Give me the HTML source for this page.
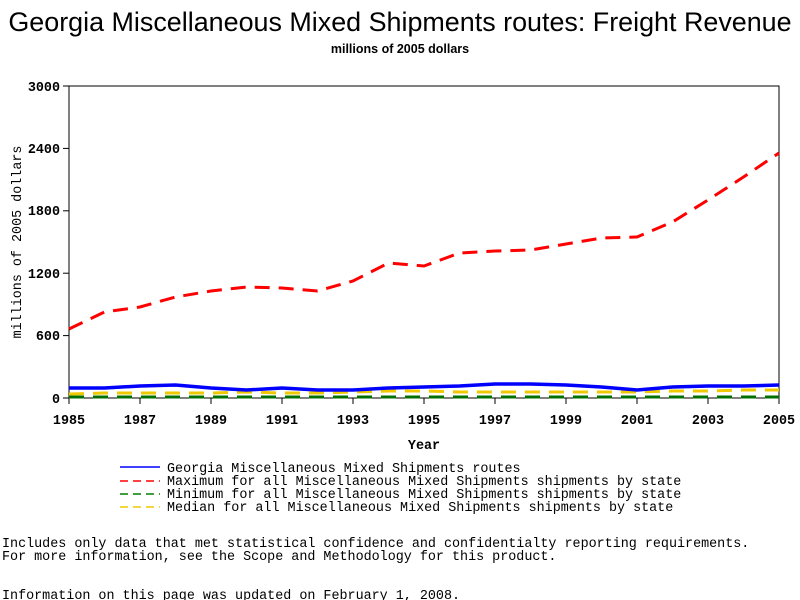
<!DOCTYPE html>
<html><head><meta charset="utf-8"><style>
body{margin:0;background:#fff;}
svg{display:block;}
.m{font-family:"Liberation Mono",monospace;font-size:13.4px;fill:#000;}
.b{font-weight:bold;}
</style></head><body>
<svg width="800" height="600" viewBox="0 0 800 600" xmlns="http://www.w3.org/2000/svg">
<text x="400" y="31" text-anchor="middle" font-family="Liberation Sans,sans-serif" font-size="26.9" fill="#000">Georgia Miscellaneous Mixed Shipments routes: Freight Revenue</text>
<text x="400" y="53" text-anchor="middle" font-family="Liberation Sans,sans-serif" font-size="12.5" font-weight="bold" fill="#000">millions of 2005 dollars</text>
<rect x="69" y="86" width="710" height="312" fill="none" stroke="#000" stroke-width="1"/>
<g stroke="#000">
<line x1="63" y1="86" x2="69" y2="86"/><line x1="63" y1="148.4" x2="69" y2="148.4"/><line x1="63" y1="210.8" x2="69" y2="210.8"/><line x1="63" y1="273.2" x2="69" y2="273.2"/><line x1="63" y1="335.6" x2="69" y2="335.6"/><line x1="63" y1="398" x2="69" y2="398"/>
<line x1="69" y1="398" x2="69" y2="404"/><line x1="140" y1="398" x2="140" y2="404"/><line x1="211" y1="398" x2="211" y2="404"/><line x1="282" y1="398" x2="282" y2="404"/><line x1="353" y1="398" x2="353" y2="404"/><line x1="424" y1="398" x2="424" y2="404"/><line x1="495" y1="398" x2="495" y2="404"/><line x1="566" y1="398" x2="566" y2="404"/><line x1="637" y1="398" x2="637" y2="404"/><line x1="708" y1="398" x2="708" y2="404"/><line x1="779" y1="398" x2="779" y2="404"/>
</g>
<g class="m b" text-anchor="end" font-size="12">
<text x="60" y="91">3000</text><text x="60" y="153">2400</text><text x="60" y="215">1800</text><text x="60" y="278">1200</text><text x="60" y="340">600</text><text x="60" y="403">0</text>
</g>
<g class="m b" text-anchor="middle" font-size="12">
<text x="69" y="424">1985</text><text x="140" y="424">1987</text><text x="211" y="424">1989</text><text x="282" y="424">1991</text><text x="353" y="424">1993</text><text x="424" y="424">1995</text><text x="495" y="424">1997</text><text x="566" y="424">1999</text><text x="637" y="424">2001</text><text x="708" y="424">2003</text><text x="779" y="424">2005</text>
<text x="424" y="449">Year</text>
</g>
<text class="m" font-size="12" transform="translate(21,242) rotate(-90)" text-anchor="middle">millions of 2005 dollars</text>
<polyline fill="none" stroke-width="3" stroke-dasharray="15,9" points="69,397 779,397" style="stroke:#007000"/>
<polyline fill="none" stroke="#f0c800" stroke-width="3" stroke-dasharray="15,9" points="69,394 104.5,393 140,393 175.5,393 211,393 246.5,392 282,393 317.5,393 353,392 388.5,391 424,391 459.5,392 495,392 530.5,392 566,392 601.5,392 637,392 672.5,391 708,391 743.5,390 779,390"/>
<polyline fill="none" stroke="#0000ff" stroke-width="3.5" points="69,388 104.5,388 140,386 175.5,385 211,388 246.5,390 282,388 317.5,390 353,390 388.5,388 424,387 459.5,386 495,384 530.5,384 566,385 601.5,387 637,390 672.5,387 708,386 743.5,386 779,385"/>
<polyline fill="none" stroke="#ff0000" stroke-width="3" stroke-dasharray="15,9" points="69,329 104.5,312 140,307 175.5,297 211,291 246.5,287 282,288 317.5,291 353,281 388.5,263 424,266 459.5,253 495,251 530.5,250 566,244 601.5,238 637,237 672.5,222 708,200 743.5,177 779,153"/>
<line x1="120" y1="467" x2="160" y2="467" stroke="#0000ff" stroke-width="1.5"/>
<line x1="120" y1="481" x2="160" y2="481" stroke="#ff0000" stroke-width="1.5" stroke-dasharray="8,5"/>
<line x1="120" y1="494" x2="160" y2="494" stroke="#008000" stroke-width="1.5" stroke-dasharray="8,5"/>
<line x1="120" y1="507" x2="160" y2="507" stroke="#f0c800" stroke-width="1.5" stroke-dasharray="8,5"/>
<g class="m">
<text x="167" y="472">Georgia Miscellaneous Mixed Shipments routes</text>
<text x="167" y="485">Maximum for all Miscellaneous Mixed Shipments shipments by state</text>
<text x="167" y="498">Minimum for all Miscellaneous Mixed Shipments shipments by state</text>
<text x="167" y="511">Median for all Miscellaneous Mixed Shipments shipments by state</text>
<text x="2" y="547">Includes only data that met statistical confidence and confidentialty reporting requirements.</text>
<text x="2" y="560">For more information, see the Scope and Methodology for this product.</text>
<text x="2" y="599">Information on this page was updated on February 1, 2008.</text>
</g>
</svg>
</body></html>
